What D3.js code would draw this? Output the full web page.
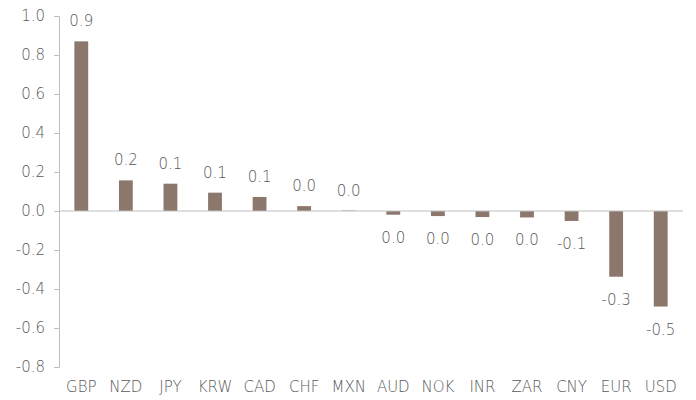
<!DOCTYPE html>
<html>
<head>
  <meta charset="utf-8">
  <title>Currency bar chart</title>
  <script src="https://d3js.org/d3.v7.min.js"></script>
  <style>
    body { margin: 0; background: #fff; }
    text { font-family: "DejaVu Sans", sans-serif; font-weight: 200; fill: #595959; }
  </style>
</head>
<body>

  <svg width="696" height="400"></svg>

  <script>

    // Data for the chart
    const currencies = ["GBP", "NZD", "JPY", "KRW", "CAD", "CHF", "MXN",
                        "AUD", "NOK", "INR", "ZAR", "CNY", "EUR", "USD"];
    const values = [0.87, 0.157, 0.14, 0.094, 0.072, 0.025, 0.002,
                    -0.019, -0.026, -0.031, -0.033, -0.051, -0.337, -0.49];
    const yTicks = [1.0, 0.8, 0.6, 0.4, 0.2, 0.0, -0.2, -0.4, -0.6, -0.8];

    const data = currencies.map((c, i) => ({ name: c, value: values[i] }));

    // Chart dimensions
    const width = 696;
    const height = 400;
    const margin = { top: 16, right: 13, bottom: 33, left: 59 };
    const chartWidth = width - margin.left - margin.right;
    const chartHeight = height - margin.top - margin.bottom;

    const svg = d3.select("svg")
      .attr("width", width)
      .attr("height", height);

    const chart = svg.append("g")
      .attr("transform", `translate(${margin.left},${margin.top})`);

    // Scales
    const xScale = d3.scaleBand()
      .domain(currencies)
      .range([0, chartWidth])
      .paddingInner(0.69)
      .paddingOuter(0.345);

    const yScale = d3.scaleLinear()
      .domain([-0.8, 1.0])
      .range([chartHeight, 0]);

    // Y axis
    const yAxis = chart.append("g")
      .call(d3.axisLeft(yScale)
        .tickValues(yTicks)
        .tickSize(5)
        .tickPadding(9));
    yAxis.select(".domain").attr("stroke", "#bfbfbf");
    yAxis.selectAll(".tick line").attr("stroke", "#bfbfbf");
    yAxis.selectAll(".tick text")
      .attr("font-size", 15)
      .attr("font-family", null)
      .text(d => d.toFixed(1));

    // Bars
    chart.selectAll(".bar")
      .data(data)
      .enter().append("rect")
        .attr("class", "bar")
        .attr("x", d => xScale(d.name))
        .attr("y", d => yScale(Math.max(0, d.value)))
        .attr("width", xScale.bandwidth())
        .attr("height", d => Math.abs(yScale(d.value) - yScale(0)))
        .attr("fill", "#8c776d");

    // Zero line
    chart.append("g")
      .attr("transform", `translate(0,${yScale(0)})`)
      .call(d3.axisBottom(xScale).tickSize(0).tickFormat(""))
      .select(".domain")
        .attr("stroke", "#bfbfbf")
        .attr("d", `M0,0H${chartWidth}`);

    // Category labels at bottom
    chart.selectAll(".cat")
      .data(currencies)
      .enter().append("text")
        .attr("class", "cat")
        .attr("x", d => xScale(d) + xScale.bandwidth() / 2)
        .attr("y", chartHeight + 25)
        .attr("text-anchor", "middle")
        .attr("font-size", 15)
        .text(d => d);

    // Value labels
    const fmt = v => {
      const s = v.toFixed(1);
      return s === "-0.0" ? "0.0" : s;
    };
    chart.selectAll(".val")
      .data(data)
      .enter().append("text")
        .attr("class", "val")
        .attr("x", d => xScale(d.name) + xScale.bandwidth() / 2)
        .attr("y", d => d.value >= 0 ? yScale(d.value) - 15 : yScale(d.value) + 28)
        .attr("text-anchor", "middle")
        .attr("font-size", 15)
        .text(d => fmt(d.value));

  </script>

</body>
</html>
